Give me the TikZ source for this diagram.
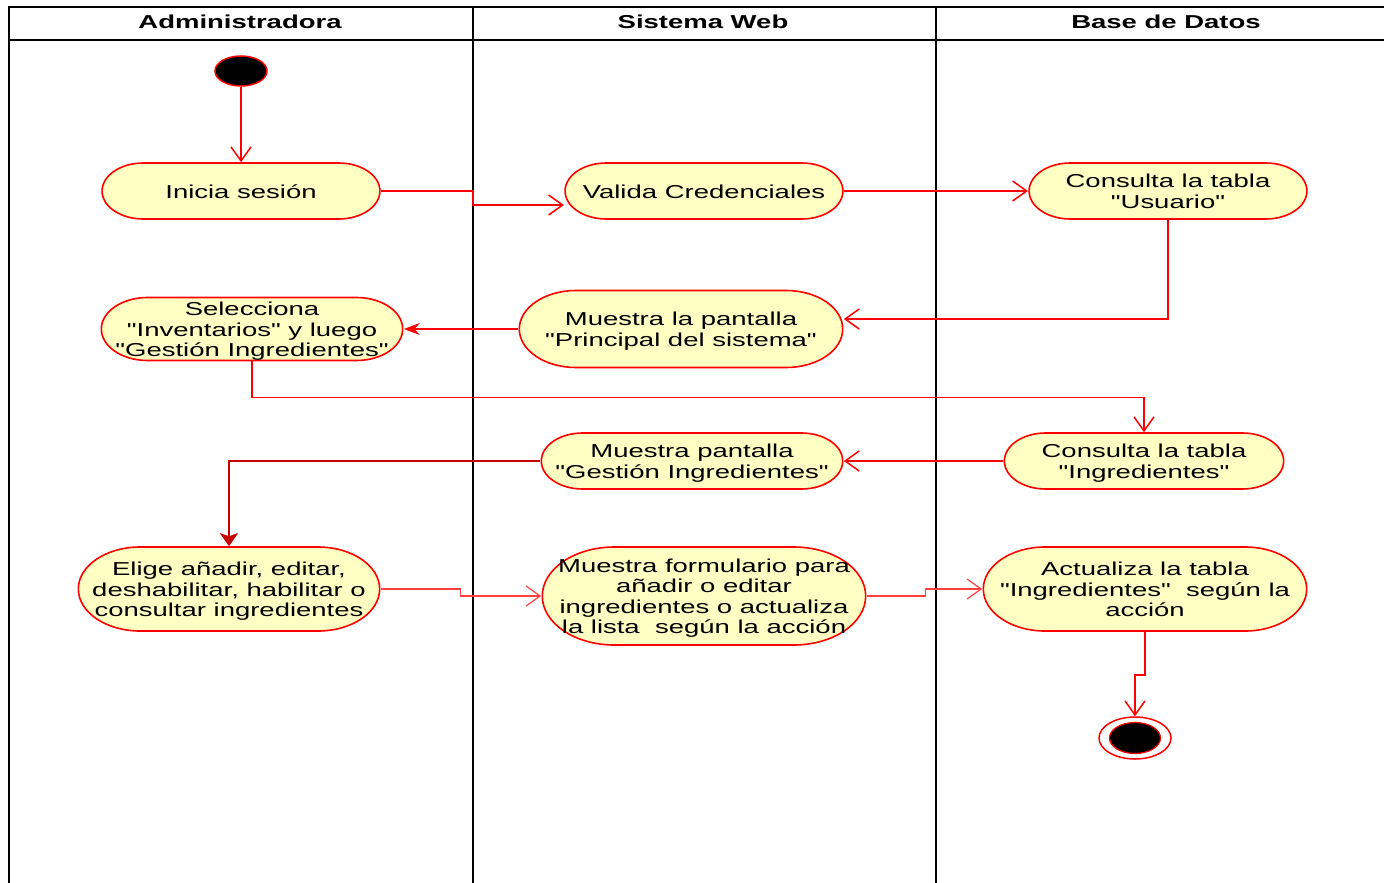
\documentclass[tikz,border=0pt]{standalone}
\usepackage{fontspec}
\setmainfont{Liberation Sans}
\usepackage{tikz}
\usetikzlibrary{shapes.geometric , shapes.misc , arrows.meta}
\definecolor{amarillo}{RGB}{255,255,196}
\definecolor{rojo}{RGB}{255,0,0}
\definecolor{rojooscuro}{RGB}{200,0,0}
\newcommand{\q}[1]{\textquotedbl#1\textquotedbl}
\newcommand{\caja}[1]{\makebox[0pt]{\raisebox{-3pt}[\height][\depth]{\begin{tabular}{@{}c@{}}#1\end{tabular}}}}

\begin{document}
\begin{tikzpicture}[x = 1pt , y = -1pt ,
    accion/.style = {rounded rectangle , draw = rojo , fill = amarillo , line width = 1.6pt , xscale = 1.47 ,
        inner sep = 0pt , font = \fontsize{18.7}{20.5}\selectfont},
    carril/.style = {font = \fontsize{18.7}{20.5}\selectfont\bfseries , xscale = 1.47},
    flujo/.style = {draw = rojo , line width = 1.5pt , -{Straight Barb[length = 14pt , width = 20pt]}}]
    \useasboundingbox (0,0) rectangle (1384,883);
    % Carriles
    \draw[line width = 1.5pt] (9,883) -- (9,7) -- (1384,7);
    \draw[line width = 1.2pt] (9,40) -- (1384,40);
    \draw[line width = 2.5pt] (473,7) coordinate (c1) -- (473,883);
    \draw[line width = 2.5pt] (936,7) coordinate (c2) -- (936,883);
    \node[carril] (admin) at (240,22) {Administradora};
    \node[carril] (web) at (703,22) {Sistema Web};
    \node[carril] (bd) at (1166,22) {Base de Datos};

    \node[ellipse , draw = rojo , fill = black , line width = 1.5pt , minimum width = 52pt , minimum height = 30pt , inner sep = 0pt] (inicio) at (241,71) {}; % Inicio
    \node[accion , minimum width = 189pt , minimum height = 56pt] (inicia) at (241,191) {\caja{Inicia sesión}};
    \node[accion , minimum width = 189pt , minimum height = 56pt] (valida) at (704,191) {\caja{Valida Credenciales}};
    \node[accion , minimum width = 189pt , minimum height = 56pt] (usuario) at (1168,191) {\caja{Consulta la tabla\\\q{Usuario}}};
    \node[accion , minimum width = 205pt , minimum height = 63pt] (selecciona) at (252,329) {\caja{Selecciona\\\q{Inventarios} y luego\\\q{Gestión Ingredientes}}};
    \node[accion , minimum width = 220pt , minimum height = 77pt] (principal) at (681,329) {\caja{Muestra la pantalla\\\q{Principal del sistema}}};
    \node[accion , minimum width = 190pt , minimum height = 56pt] (tablaing) at (1144,461) {\caja{Consulta la tabla\\\q{Ingredientes}}};
    \node[accion , minimum width = 205pt , minimum height = 56pt] (gestion) at (692,461) {\caja{Muestra pantalla\\\q{Gestión Ingredientes}}};
    \node[accion , minimum width = 205pt , minimum height = 84pt] (elige) at (229,589) {\caja{Elige añadir, editar,\\deshabilitar, habilitar o\\consultar ingredientes}};
    \node[accion , minimum width = 220pt , minimum height = 98pt] (formulario) at (704,596) {\caja{Muestra formulario para\\añadir o editar\\ingredientes o actualiza\\la lista~ según la acción}};
    \node[accion , minimum width = 220pt , minimum height = 84pt] (actualiza) at (1145,589) {\caja{Actualiza la tabla\\\q{Ingredientes}~ según la\\acción}};
    \node[ellipse , draw = rojo , fill = white , line width = 1.5pt , minimum width = 72pt , minimum height = 42pt , inner sep = 0pt] (fin) at (1135,738) {}; % Fin
    \node[ellipse , draw = rojo , fill = black , line width = 1.2pt , minimum width = 51pt , minimum height = 31pt , inner sep = 0pt] (finc) at (fin) {};

    % Flujos
    \draw[flujo] (inicio) -- (inicia);
    \draw[flujo] (inicia.east) -- (inicia.east -| c1) |- ([yshift = -14pt]valida.west);
    \draw[flujo] (valida.east) -- (usuario.west);
    \draw[flujo] (usuario.south) |- ([yshift = 10pt]principal.east);
    \draw[draw = rojo , line width = 1.5pt , -{Stealth[length = 16pt , width = 12pt]}] (principal.west) -- (selecciona.east);
    \draw[flujo] (selecciona.south) -- ++(0,36) -| (tablaing.north);
    \draw[flujo] (tablaing.west) -- (gestion.east);
    \draw[draw = rojooscuro , line width = 2.5pt , -{Stealth[length = 13pt , width = 18pt , inset = 3pt]}] (gestion.west) -| (elige.north);
    \draw[flujo , draw = rojo!75 , line width = 1.2pt] (elige.east) -- ++(80,0) |- (formulario.west);
    \draw[flujo , draw = rojo!75 , line width = 1.2pt] (formulario.east) -- ++(59,0) |- (actualiza.west);
    \draw[flujo] (actualiza.south) -- ++(0,43) -| (fin.north);
\end{tikzpicture}
\end{document}
